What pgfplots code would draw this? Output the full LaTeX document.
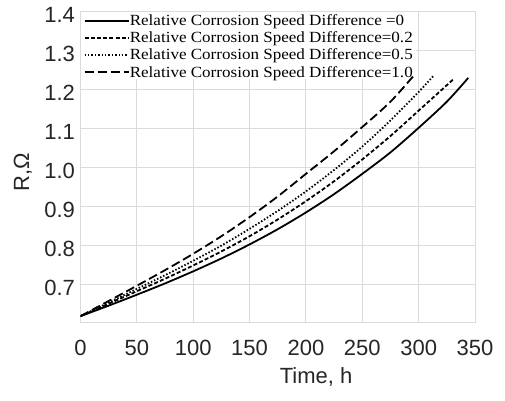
\documentclass[border=0pt]{standalone}
\usepackage{fontspec}
\setmainfont{Liberation Sans}
\newfontfamily\legfont{Liberation Serif}[FakeStretch=1.10]
\usepackage{pgfplots}
\pgfplotsset{compat=1.18}
\begin{document}
\begin{tikzpicture}[x=1pt,y=1pt]
\path (0,0) rectangle (505,400);
\begin{axis}[
  at={(80.5pt,78pt)}, anchor=south west,
  scale only axis, width=394.5pt, height=310pt,
  xmin=0, xmax=350, ymin=0.605, ymax=1.4,
  xtick={0,50,100,150,200,250,300,350},
  ytick={0.7,0.8,0.9,1.0,1.1,1.2,1.3,1.4},
  grid=major, grid style={color=black!14, line width=1pt},
  axis line style={black!14, line width=1pt},
  tick style={draw=none},
  /pgf/number format/assume math mode=true,
  tick label style={font=\fontsize{22}{26}\selectfont, text=black!85},
  yticklabel style={/pgf/number format/fixed, /pgf/number format/fixed zerofill, /pgf/number format/precision=1, xshift=-2pt, yshift=-3pt},
  xticklabel style={yshift=-15pt},
  xlabel={Time, h},
  ylabel={R,Ω},
  xlabel style={font=\fontsize{22}{26}\selectfont, text=black!85, at={(axis description cs:0.597,-0.177)}, anchor=center},
  ylabel style={font=\fontsize{22}{26}\selectfont, text=black!85, at={(axis description cs:-0.146,0.484)}, anchor=center},
  legend cell align=left,
  legend image code/.code={\draw[#1] (0pt,0pt) -- (44pt,0pt);},
  legend style={at={(0.005,0.995)}, anchor=north west, draw=none, fill=none,
    font=\legfont\fontsize{15.5}{17}\selectfont, inner sep=1pt, row sep=4pt,
    column sep=0pt, nodes={inner sep=0.3pt}},
]
\fill[white] (axis cs:0.5,1.399) rectangle (axis cs:297.5,1.228);
\addplot[black, line width=1.8pt, smooth] coordinates {
(0,0.620) (25,0.647) (50,0.675) (75,0.704) (100,0.735) (125,0.768) (150,0.804)
(175,0.843) (200,0.886) (225,0.933) (250,0.985) (275,1.040) (300,1.103) (325,1.170) (344,1.231)};
\addlegendentry{Relative Corrosion Speed Difference =0}
\addplot[black, line width=1.8pt, dash pattern=on 4pt off 2.2pt, smooth] coordinates {
(0,0.620) (25,0.652) (50,0.684) (75,0.716) (100,0.750) (125,0.786) (150,0.825)
(175,0.868) (200,0.915) (225,0.966) (250,1.022) (275,1.082) (300,1.147) (331,1.228)};
\addlegendentry{Relative Corrosion Speed Difference=0.2}
\addplot[black, line width=1.8pt, dash pattern=on 1.5pt off 1.9pt, smooth] coordinates {
(0,0.620) (25,0.655) (50,0.690) (75,0.725) (100,0.762) (125,0.801) (150,0.844)
(175,0.890) (200,0.940) (225,0.995) (250,1.055) (275,1.122) (300,1.195) (313,1.236)};
\addlegendentry{Relative Corrosion Speed Difference=0.5}
\addplot[black, line width=1.8pt, dash pattern=on 9pt off 4pt, smooth] coordinates {
(0,0.620) (25,0.659) (50,0.698) (75,0.738) (100,0.780) (125,0.825) (150,0.874)
(175,0.927) (200,0.985) (225,1.043) (250,1.105) (275,1.170) (296,1.238)};
\addlegendentry{Relative Corrosion Speed Difference=1.0}
\end{axis}
\end{tikzpicture}
\end{document}
